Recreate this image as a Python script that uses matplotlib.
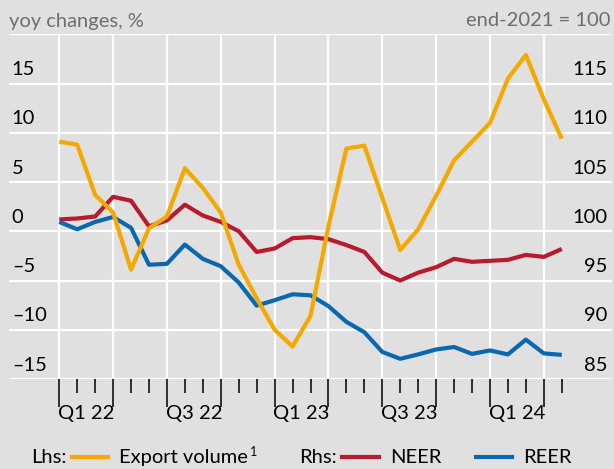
import numpy as np
import matplotlib
matplotlib.use("Agg")
import matplotlib.pyplot as plt
from matplotlib.lines import Line2D

# monthly, Jan 2022 .. May 2024
months = np.arange(29)
export_volume = [9.1, 8.8, 3.7, 1.9, -3.9, 0.3, 1.5, 6.4, 4.4, 1.9, -3.4, -6.8,
                 -10.0, -11.7, -8.6, 0.5, 8.4, 8.7, 3.4, -1.9, 0.2, 3.6, 7.2, 9.1,
                 11.0, 15.5, 17.9, 13.4, 9.4]
neer = [101.2, 101.3, 101.5, 103.5, 103.1, 100.5, 101.1, 102.7, 101.6, 100.95, 100.0, 97.9,
        98.25, 99.3, 99.4, 99.2, 98.6, 97.9, 95.8, 95.0, 95.8, 96.35, 97.2, 96.9,
        97.0, 97.1, 97.6, 97.4, 98.2]
reer = [100.95, 100.2, 100.95, 101.45, 100.35, 96.6, 96.7, 98.65, 97.2, 96.45, 94.8, 92.45,
        93.0, 93.6, 93.5, 92.4, 90.8, 89.75, 87.75, 87.05, 87.5, 88.0, 88.25, 87.55,
        87.9, 87.5, 89.0, 87.6, 87.45]

q_labels = ["Q1 22", "Q3 22", "Q1 23", "Q3 23", "Q1 24"]
q_label_pos = [1.5, 7.5, 13.5, 19.5, 25.5]
lhs_ticks = [-15, -10, -5, 0, 5, 10, 15]
rhs_ticks = [85, 90, 95, 100, 105, 110, 115]

BG = "#dfe0df"
YEL = "#f5a800"
RED = "#b81a2e"
BLUE = "#0a68b0"
GREY = "#6e6e6e"
FS = 14.5
plt.rcParams['font.family'] = ['Lato', 'DejaVu Sans']

W, H = 614, 469
fig = plt.figure(figsize=(W / 100, H / 100), dpi=100, facecolor=BG)
ax = fig.add_axes([9 / W, 1 - 379 / H, 603 / W, (379 - 34.3) / H])
ax2 = ax.twinx()
ax.set_zorder(ax2.get_zorder() + 1)
ax.patch.set_visible(False)
ax2.patch.set_visible(False)

ax.set_xlim(-2.8, 30.8)
ax.set_ylim(-15, 20)
ax2.set_ylim(85, 120)

# grid lives on the bottom axes so every line sits above it
ax2.xaxis.set_visible(True)
ax2.set_xticks(np.arange(0, 28, 3))
ax2.set_yticks(np.arange(85, 125, 5))
ax2.grid(True, color="white", lw=1.6)
ax2.tick_params(length=0, labelbottom=False, labelright=False, labelleft=False)
ax2.axhline(100, color="black", lw=1.3, zorder=1.5)

ax2.plot(months, neer, color=RED, lw=3, solid_capstyle="butt", zorder=3)
ax2.plot(months, reer, color=BLUE, lw=3, solid_capstyle="butt", zorder=3)
ax.plot(months, export_volume, color=YEL, lw=3, solid_capstyle="butt", zorder=3)

for a in (ax, ax2):
    for s in a.spines.values():
        s.set_visible(False)

ax.set_yticks([])
ax.set_xticks(np.arange(0, 28, 3))
ax.set_xticks(months, minor=True)
ax.tick_params(axis="x", which="major", length=20, width=1.3, color="#222222", labelbottom=False)
ax.tick_params(axis="x", which="minor", length=10, width=1.3, color="#222222")

for lab, pos in zip(q_labels, q_label_pos):
    ax.annotate(lab, xy=(pos, 0), xycoords=ax.get_xaxis_transform(), xytext=(0, -25),
                textcoords="offset points", ha="center", va="center", fontsize=FS)

for v in lhs_ticks:
    ax.annotate(str(v).replace("-", "\u2013"), xy=(0, v), xycoords=ax.get_yaxis_transform(),
                xytext=(2, 10), textcoords="offset points", ha="left", va="center", fontsize=FS)
for v in rhs_ticks:
    ax2.annotate(str(v), xy=(1, v), xycoords=ax2.get_yaxis_transform(),
                 xytext=(-3, 10), textcoords="offset points", ha="right", va="center", fontsize=FS)

fig.text(9 / W, 1 - 21 / H, "yoy changes, %", color=GREY, fontsize=FS, va="center")
fig.text(610 / W, 1 - 21 / H, "end-2021 = 100", color=GREY, fontsize=FS, va="center", ha="right")

# legend
ly = 1 - 457 / H
fig.text(31 / W, ly, "Lhs:", fontsize=FS, va="center")
fig.add_artist(Line2D([72 / W, 108 / W], [ly, ly], color=YEL, lw=3))
t = fig.text(119 / W, ly, "Export volume", fontsize=FS, va="center")
plt.annotate("1", xy=(1, 0.8), xycoords=t, xytext=(1.5, 0), textcoords="offset points",
             fontsize=9, ha="left", va="center", annotation_clip=False)
fig.text(299 / W, ly, "Rhs:", fontsize=FS, va="center")
fig.add_artist(Line2D([342 / W, 379 / W], [ly, ly], color=RED, lw=3))
fig.text(390 / W, ly, "NEER", fontsize=FS, va="center")
fig.add_artist(Line2D([476 / W, 512 / W], [ly, ly], color=BLUE, lw=3))
fig.text(523 / W, ly, "REER", fontsize=FS, va="center")

fig.savefig("out.png", dpi=100, facecolor=BG)
